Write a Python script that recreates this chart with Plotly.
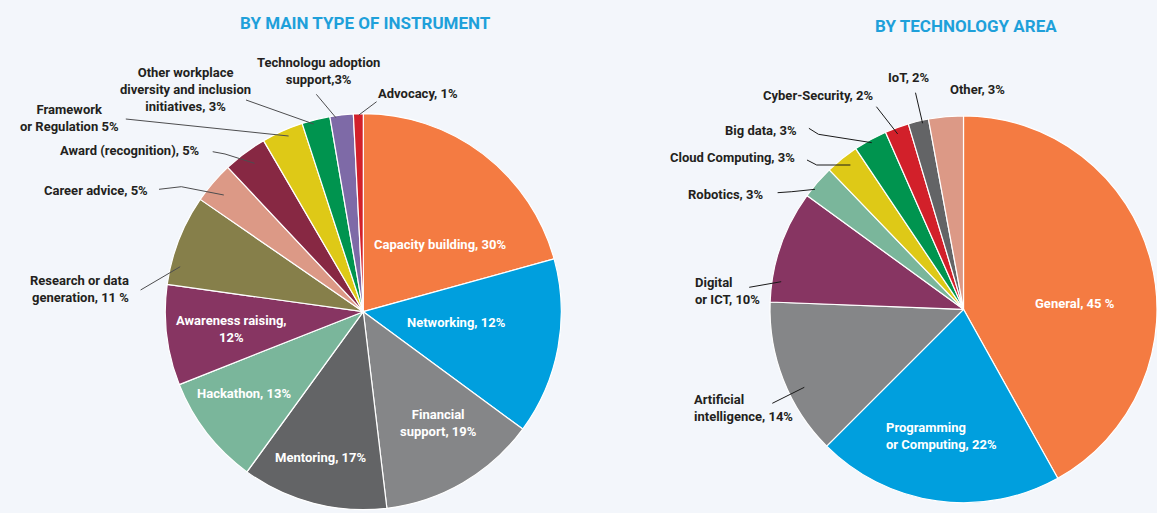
import plotly.graph_objects as go

W, H = 1157, 513

# left pie: by main type of instrument (slice sizes, clockwise from 12 o'clock)
instrument_names = ["Capacity building", "Networking", "Financial support", "Mentoring", "Hackathon",
                    "Awareness raising", "Research or data generation", "Career advice",
                    "Award (recognition)", "Framework or Regulation",
                    "Other workplace diversity and inclusion initiatives",
                    "Technologu adoption support", "Advocacy"]
instrument_values = [20.7, 14.4, 13.0, 11.9, 9.0, 8.2, 7.4, 3.4, 3.6, 3.4, 2.3, 1.9, 0.8]
instrument_text = ["Capacity building, 30%", "Networking, 12%", "Financial<br>support, 19%",
                   "Mentoring, 17%", "Hackathon, 13%", "Awareness raising,<br>12%",
                   "Research or data<br>generation, 11 %", "Career advice, 5%",
                   "Award (recognition), 5%", "Framework<br>or Regulation 5%",
                   "Other workplace<br>diversity and inclusion<br>initiatives, 3%",
                   "Technologu adoption<br>support,3%", "Advocacy, 1%"]
instrument_colors = ["#F47B42", "#009FDE", "#858688", "#636466", "#7AB69B", "#873562", "#867F4A",
                     "#DC9986", "#872843", "#DEC917", "#00944F", "#7E6AA7", "#D2202A"]

# right pie: by technology area
tech_names = ["General", "Programming or Computing", "Artificial intelligence", "Digital or ICT",
              "Robotics", "Cloud Computing", "Big data", "Cyber-Security", "IoT", "Other"]
tech_values = [41.9, 20.6, 13.1, 9.4, 2.8, 2.8, 2.8, 2.0, 1.7, 2.9]
tech_text = ["General, 45 %", "Programming<br>or Computing, 22%", "Artificial<br>intelligence, 14%",
             "Digital<br>or ICT, 10%", "Robotics, 3%", "Cloud Computing, 3%", "Big data, 3%",
             "Cyber-Security, 2%", "IoT, 2%", "Other, 3%"]
tech_colors = ["#F47B42", "#009FDE", "#858688", "#873562", "#7AB69B", "#DEC917", "#00944F",
               "#D2202A", "#636466", "#DC9986"]

FONT = "Roboto, Arial, sans-serif"
DARK = "#231F20"


def X(p):
    return p / W


def Y(p):
    return 1 - p / H


fig = go.Figure()
fig.add_trace(go.Pie(
    labels=instrument_names, values=instrument_values, marker=dict(colors=instrument_colors,
                                                                   line=dict(color="white", width=1.2)),
    sort=False, direction="clockwise", rotation=0, textinfo="none", hoverinfo="label+percent",
    domain=dict(x=[X(363.3 - 198), X(363.3 + 198)], y=[Y(311.7 + 198), Y(311.7 - 198)]),
    showlegend=False))
fig.add_trace(go.Pie(
    labels=tech_names, values=tech_values, marker=dict(colors=tech_colors,
                                                       line=dict(color="white", width=1.2)),
    sort=False, direction="clockwise", rotation=0, textinfo="none", hoverinfo="label+percent",
    domain=dict(x=[X(770), 1], y=[Y(309.3 + 193.5), Y(309.3 - 193.5)]),
    showlegend=False))

# label placement: (x, y, xanchor, colour) in pixels of the 1157x513 picture
instrument_pos = [(439.5, 244.3, "center", "white"), (456.7, 322.3, "center", "white"),
                  (438.3, 423.3, "center", "white"), (321, 457.3, "center", "white"),
                  (244.3, 393.3, "center", "white"), (231, 329, "center", "white"),
                  (131.3, 289, "right", DARK), (149.8, 190.7, "right", DARK),
                  (202.4, 150.7, "right", DARK), (69.4, 118, "center", DARK),
                  (185, 89, "center", DARK), (318, 71, "center", DARK),
                  (375.5, 93.3, "left", DARK)]
tech_pos = [(1075, 303.3, "center", "white"), (884.2, 435.5, "left", "white"),
            (692.4, 408.2, "left", DARK), (693.4, 290.8, "left", DARK),
            (765.2, 195, "right", DARK), (797.2, 157.7, "right", DARK),
            (799, 130, "right", DARK), (874.6, 95.7, "right", DARK),
            (886, 77.3, "left", DARK), (948, 89.3, "left", DARK)]

annotations = []
for txt, (x, y, anchor, col) in list(zip(instrument_text, instrument_pos)) + list(zip(tech_text, tech_pos)):
    annotations.append(dict(text="<b>" + txt.replace("<br>", "</b><br><b>") + "</b>",
                            x=X(x), y=Y(y), xref="paper", yref="paper",
                            xanchor=anchor, yanchor="middle", align=anchor,
                            showarrow=False, font=dict(family=FONT, size=13, color=col)))

annotations.append(dict(text="<b>BY MAIN TYPE OF INSTRUMENT</b>", x=X(365.5), y=Y(23.3), xref="paper",
                        yref="paper", xanchor="center", yanchor="middle", showarrow=False,
                        font=dict(family=FONT, size=17, color="#1EA0DA")))
annotations.append(dict(text="<b>BY TECHNOLOGY AREA</b>", x=X(966), y=Y(25.7), xref="paper",
                        yref="paper", xanchor="center", yanchor="middle", showarrow=False,
                        font=dict(family=FONT, size=17, color="#1EA0DA")))

# leader lines (pixel points)
left_leaders = [
    [(140.6, 290), (180.2, 266.7)],
    [(159, 189.3), (181.3, 186.7), (223.8, 195)],
    [(212.7, 151.7), (225, 154), (254.5, 163.3)],
    [(125.8, 119), (288.6, 136)],
    [(246, 100), (313.7, 124)],
    [(316.3, 94.3), (335.9, 117.7)],
    [(376.6, 101.7), (358.9, 115)],
]
right_leaders = [
    [(772.3, 403.3), (804.3, 387.3)],
    [(749.2, 287.3), (781.2, 281.7)],
    [(777.6, 192.7), (791.8, 191.7), (815, 189.3)],
    [(807, 160), (816.7, 165), (850.4, 165)],
    [(808.9, 128.3), (818.5, 134.3), (871.8, 142.7)],
    [(876.4, 106.7), (897.7, 134)],
    [(915.5, 92.7), (922.6, 123.3)],
]
shapes = []
for pts_list, col in [(left_leaders, "#4D4D4F"), (right_leaders, "#1A1A1A")]:
    for pts in pts_list:
        path = "M " + " L ".join(f"{X(a):.5f},{Y(b):.5f}" for a, b in pts)
        shapes.append(dict(type="path", path=path, xref="paper", yref="paper",
                           line=dict(color=col, width=1)))

fig.update_layout(width=W, height=H, margin=dict(l=0, r=0, t=0, b=0),
                  paper_bgcolor="#F3F6FB", plot_bgcolor="#F3F6FB",
                  annotations=annotations, shapes=shapes, font=dict(family=FONT))

fig.write_html("out.html", config={"displayModeBar": False},
               post_script="document.body.style.margin='0';")
